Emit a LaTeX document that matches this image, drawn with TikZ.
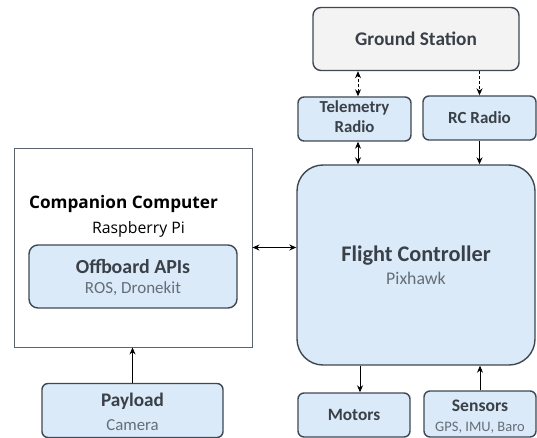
\documentclass[tikz,border=0pt]{standalone}
\usepackage{fontspec}
\setmainfont{Carlito}
\newfontfamily\ccfont{Open Sans}
\usetikzlibrary{arrows.meta}
\definecolor{bluefill}{RGB}{219,234,248}
\definecolor{greyfill}{RGB}{243,243,243}
\definecolor{edge}{RGB}{62,72,82}
\definecolor{titletext}{RGB}{58,64,72}
\definecolor{subtext}{RGB}{100,110,120}
\tikzset{
  unit/.style={draw=edge, line width=1.4pt, fill=bluefill, rounded corners=6pt,
    inner sep=0pt, text=titletext},
  link/.style={line width=0.9pt, draw=black, -{Stealth[length=7pt,width=6pt]}},
  duplex/.style={line width=0.9pt, draw=black, {Stealth[length=7pt,width=6pt]}-{Stealth[length=7pt,width=6pt]}},
  wireless/.style={dashed, dash pattern=on 3pt off 2pt},
}
% bold title over a smaller grey line; #5 = distance between the baselines (integer, pt);
% the strut in the first row lowers the pair by 3pt inside its box
\newcommand\twolines[5]{{\fontsize{10}{#5}\selectfont\setlength\tabcolsep{0pt}%
  \begin{tabular}{c}\rule{0pt}{\dimexpr 7pt*#5/10+6pt\relax}\fontsize{#1}{#5}\selectfont\bfseries #2\\
  \fontsize{#3}{#5}\selectfont\color{subtext}#4\end{tabular}}}
% two bold lines of one size; #2 = distance between the baselines
\newcommand\boldpair[4]{{\fontsize{10}{#2}\selectfont\setlength\tabcolsep{0pt}%
  \begin{tabular}{c}\fontsize{#1}{#2}\selectfont\bfseries #3\\
  \fontsize{#1}{#2}\selectfont\bfseries #4\end{tabular}}}
\begin{document}
\begin{tikzpicture}[x=1pt,y=-1pt]
\useasboundingbox (0,0) rectangle (537,438);

% ground segment
\node[unit, fill=greyfill, rounded corners=8pt, minimum width=206pt, minimum height=63pt]
  (gs) at (416,39) {\fontsize{19.3}{21}\selectfont\bfseries Ground Station};
\node[unit, minimum width=113pt, minimum height=44pt] (tel) at (354.5,119)
  {\boldpair{16.8}{20}{Telemetry}{Radio}};
\node[unit, minimum width=113pt, minimum height=44pt] (rc) at (479.5,118)
  {\fontsize{17}{18}\selectfont\bfseries RC Radio};

% autopilot
\node[unit, rounded corners=26pt, minimum width=238pt, minimum height=200pt] (fc) at (416,265)
  {\twolines{22.3}{Flight Controller}{17.8}{Pixhawk}{23}};
\node[unit, minimum width=112pt, minimum height=44pt] (mot) at (354,415)
  {\fontsize{17.3}{18}\selectfont\bfseries Motors};
\node[unit, minimum width=112pt, minimum height=46pt] (sens) at (480,414)
  {\twolines{17.6}{Sensors}{14.5}{GPS, IMU, Baro}{20}};

% companion computer
\node[draw=edge!85, line width=0.9pt, fill=white, minimum width=238pt, minimum height=199pt, inner sep=0pt]
  (cc) at (133,247.5) {};
\node[anchor=base, font=\ccfont\bfseries\fontsize{17.2}{20}\selectfont] (cctitle) at (123.5,208) {Companion Computer};
\node[anchor=base, font=\ccfont\fontsize{15.8}{18}\selectfont] (ccsub) at (138.5,233) {Raspberry Pi};
\node[unit, rounded corners=9pt, minimum width=208pt, minimum height=63pt] (api) at (133,276.5)
  {\twolines{19.9}{Offboard APIs}{17}{ROS, Dronekit}{20}};
\node[unit, minimum width=181pt, minimum height=49pt] (pay) at (132.5,410.5)
  {\twolines{19.2}{Payload}{16.8}{Camera}{24}};

% connectors
\draw[duplex, wireless] ([xshift=3.5pt]tel.north) -- ([xshift=3.5pt]tel.north |- gs.south);
\draw[link, wireless] (gs.south -| rc.north) -- (rc.north);
\draw[duplex] ([xshift=3.5pt]tel.south) -- ([xshift=3.5pt]tel.south |- fc.north);
\draw[link] (rc.south) -- (rc.south |- fc.north);
\draw[duplex] (cc.east) -- (cc.east -| fc.west);
\draw[link] ([xshift=6pt]fc.south -| mot.north) -- ([xshift=6pt]mot.north);
\draw[link] (sens.north) -- (sens.north |- fc.south);
\draw[link] (pay.north) -- (pay.north |- cc.south);
\end{tikzpicture}
\end{document}
